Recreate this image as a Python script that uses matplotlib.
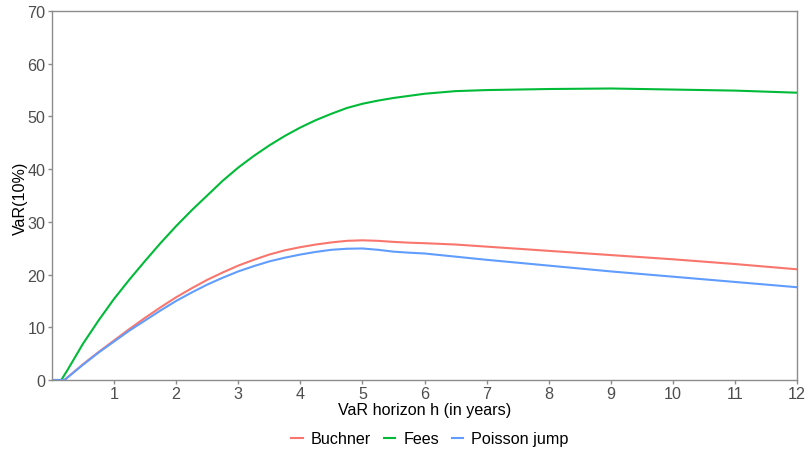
import matplotlib
matplotlib.use("Agg")
import matplotlib.pyplot as plt

plt.rcParams['font.family'] = ['Liberation Sans', 'DejaVu Sans']

h_fees = [0, 0.15, 0.25, 0.5, 0.75, 1, 1.25, 1.5, 1.75, 2, 2.25, 2.5, 2.75, 3, 3.25, 3.5, 3.75,
          4, 4.25, 4.5, 4.75, 5, 5.25, 5.5, 6, 6.5, 7, 8, 9, 10, 11, 12]
fees = [0, 0, 1.9, 6.9, 11.3, 15.4, 19.1, 22.6, 26.0, 29.2, 32.2, 35.0, 37.8, 40.3, 42.5, 44.5, 46.3,
        47.9, 49.3, 50.5, 51.6, 52.4, 53.0, 53.5, 54.3, 54.8, 55.0, 55.2, 55.3, 55.1, 54.9, 54.5]

h_bp = [0, 0.2, 0.5, 0.75, 1, 1.25, 1.5, 1.75, 2, 2.25, 2.5, 2.75, 3, 3.25, 3.5, 3.75,
        4, 4.25, 4.5, 4.75, 5, 5.25, 5.5, 5.75, 6, 6.5, 7, 8, 9, 10, 11, 12]
buchner = [0, 0, 3.0, 5.3, 7.5, 9.7, 11.8, 13.8, 15.7, 17.4, 19.0, 20.4, 21.7, 22.8, 23.8, 24.6,
           25.2, 25.7, 26.1, 26.4, 26.5, 26.4, 26.2, 26.05, 25.95, 25.7, 25.3, 24.5, 23.7, 22.9, 22.0, 21.0]
poisson = [0, 0, 2.9, 5.2, 7.3, 9.4, 11.3, 13.2, 15.0, 16.6, 18.1, 19.4, 20.6, 21.6, 22.5, 23.2,
           23.8, 24.3, 24.7, 24.9, 24.95, 24.7, 24.35, 24.15, 24.0, 23.4, 22.8, 21.7, 20.6, 19.6, 18.6, 17.6]

series = [("Buchner", h_bp, buchner, "#F8766D"),
          ("Fees", h_fees, fees, "#00BA38"),
          ("Poisson jump", h_bp, poisson, "#619CFF")]

FS = 11.6

fig = plt.figure(figsize=(8.09, 4.52), dpi=100)
ax = fig.add_axes([52/809, 1-381/452, (797-52)/809, (381-12)/452])

for name, x, y, c in series:
    ax.plot(x, y, color=c, lw=1.5, label=name, solid_joinstyle='round')

ax.set_xlim(0, 12)
ax.set_ylim(0, 70)
ax.set_xticks(range(1, 13))
ax.set_yticks(range(0, 71, 10))
for s in ax.spines.values():
    s.set_color("#8c8c8c")
    s.set_linewidth(1.0)
ax.tick_params(colors="#8c8c8c", labelcolor="#4D4D4D", labelsize=FS, length=3, width=1, pad=1.5)
ax.set_xlabel("VaR horizon h (in years)", fontsize=FS)
ax.set_ylabel("VaR(10%)", fontsize=FS)
ax.xaxis.set_label_coords((425 - 52) / 745, -(410 - 381) / 369)
ax.xaxis.label.set_va('center')
ax.yaxis.set_label_coords(-(52 - 20) / 745, (381 - 198) / 369)
ax.yaxis.label.set_va('center')

fig.legend(loc="center", bbox_to_anchor=(430/809, 1-440/452), ncol=3, frameon=False,
           fontsize=FS, handlelength=0.7, columnspacing=0.8, handletextpad=0.5)

fig.savefig("out.png", dpi=100)
